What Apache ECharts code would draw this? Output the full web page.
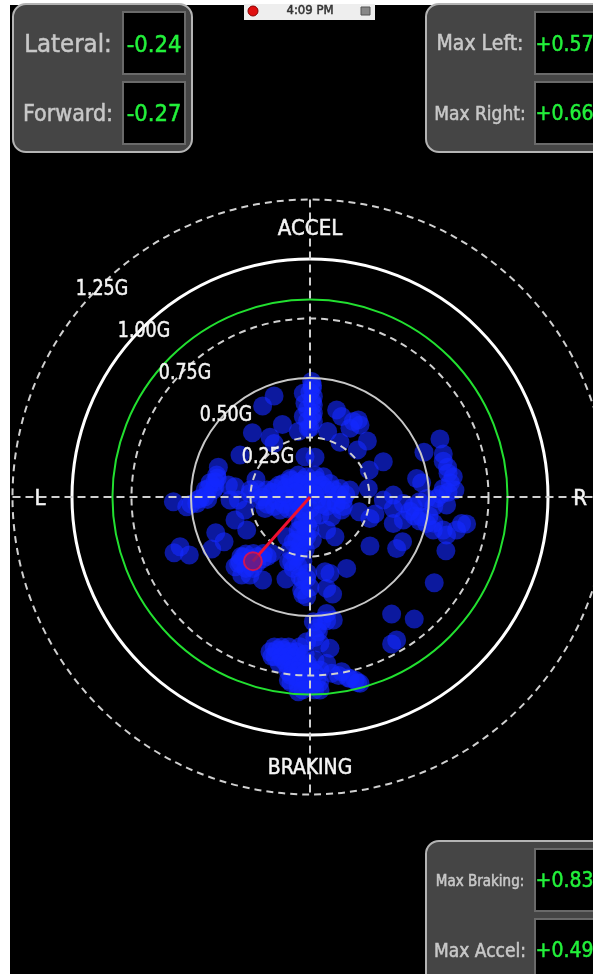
<!DOCTYPE html>
<html><head><meta charset="utf-8">
<style>html,body{margin:0;padding:0;background:#fff;overflow:hidden}#c{width:593px;height:974px;filter:blur(0.6px)}</style>
<script src="https://cdn.jsdelivr.net/npm/echarts@6/dist/echarts.min.js"></script>
</head><body><div id="c"></div>
<script>
// Accelerometer samples, in G
const lateralG = [.007,.010,.014,-.028,.014,-.021,.014,-.028,.014,-.049,-.007,-.151,-.199,-.116,-.242,-.168,-.151,-.294,-.021,.021,-.385,-.392,-.399,-.427,-.441,-.476,-.518,-.574,-.462,-.406,-.343,-.315,-.336,-.301,-.227,-.252,-.210,-.182,-.147,-.112,-.084,-.049,-.014,.021,.056,.084,.126,.168,-.070,-.028,.028,-.140,-.084,-.028,.028,.084,.140,-.189,-.126,-.070,.112,.133,.182,.203,.168,.210,.074,.126,.241,.199,.308,.249,.245,.207,.273,.252,.133,.091,.042,.448,.469,.479,.546,.560,.578,.602,.609,.560,.532,.574,.350,.308,.350,.392,.434,.490,.469,.490,.350,.392,.637,.658,.616,.560,.518,.574,-.315,-.266,-.273,-.396,-.361,-.413,-.546,-.571,-.507,-.294,-.315,-.280,-.238,-.196,-.161,-.252,-.199,-.287,-.224,-.101,-.077,-.084,-.056,-.042,-.028,0,-.098,.105,.070,.154,.252,.389,.364,.571,.522,.343,.438,.364,.343,.063,.084,-.042,-.014,-.035,-.014,.070,.095,.070,.098,.014,.035,.084,.042,-.014,-.140,-.168,-.147,-.112,-.084,-.056,-.042,-.112,-.070,-.028,-.091,-.056,-.049,-.014,.042,.042,.028,.091,.133,.168,.210,.070,.021,-.091,-.028,-.049,-.014,-.070,
-.25,-.22,-.20,-.16,-.13,-.10,-.08,-.05,-.03,0,.03,.05,.07,.10,.12,.15,-.18,-.15,-.11,-.09,-.05,-.03,0,.02,.05,.07,.11,.14,-.06,-.11,
-.04,-.02,0,.01,-.04,-.01,-.05,-.02,.01,-.04,-.07,-.02,-.06,-.03,-.09,-.05,-.01,-.03,0,-.03,
-.15,-.12,-.09,-.16,-.12,-.09,-.06,-.13,-.10,-.07,-.04,-.02,-.01,-.08,-.05,-.02,0,-.08,-.05,-.02,.02,.01,.04,-.03,.02,
.05,.07,.03,.02,.16,.19,.12,.20,
-.29,-.27,-.25,-.22,-.20,-.18,-.30,-.27,-.24,
-.42,-.40,-.44,-.39,-.47,-.50,-.43,
.01,0,.01,-.01,.01,-.01,0,
.50,.52,.46,.44,.42,.46,.52,.55,.58,.59,.58,.56];
const forwardG = [.485,.457,.422,.436,.387,.394,.352,.338,.317,.275,.289,.424,.382,.305,.270,.251,.225,.176,.169,.167,.125,.092,.064,.036,.001,-.027,-.041,-.020,-.006,.029,.050,.043,-.013,-.013,.074,.015,-.013,.029,.036,.057,.078,.092,.085,.092,.085,.057,.036,.029,.043,.036,.036,-.013,-.013,-.013,-.013,-.013,-.013,-.048,-.055,-.048,.366,.338,.317,.324,.289,.303,.275,.230,.235,.197,.148,.113,.036,-.062,-.071,-.090,-.055,-.083,-.076,.078,.060,.188,.244,.181,.125,.085,.029,.036,-.006,-.034,.008,-.013,-.048,-.027,-.041,-.006,-.083,-.111,-.111,-.097,-.111,-.113,-.139,-.139,-.139,-.160,-.097,-.139,-.055,-.150,-.188,-.219,-.209,-.234,-.244,-.272,-.293,-.251,-.237,-.237,-.237,-.328,-.349,-.328,-.279,-.345,-.272,-.223,-.181,-.139,-.111,-.139,-.167,-.167,-.139,-.300,-.206,-.188,-.216,-.226,-.360,-.492,-.513,-.601,-.618,-.314,-.321,-.335,-.342,-.391,-.419,-.384,-.408,-.489,-.517,-.524,-.566,-.636,-.615,-.608,-.643,-.650,-.671,-.643,-.650,-.650,-.629,-.685,-.699,-.685,-.769,-.755,-.818,-.790,-.811,-.727,-.769,-.741,-.734,-.762,-.783,-.699,-.685,-.734,-.195,-.230,-.167,-.300,
.03,.03,0,.02,.05,.04,.07,.06,.07,.06,.07,.05,.03,.03,.01,.01,-.03,-.04,-.03,-.05,-.02,.01,.02,.01,-.03,-.04,-.03,-.04,.02,.01,
-.05,-.07,-.05,-.09,-.10,-.12,-.14,-.16,-.18,-.20,-.19,-.22,-.25,-.27,-.27,-.29,-.32,-.35,-.38,-.41,
-.63,-.63,-.63,-.67,-.67,-.67,-.67,-.70,-.70,-.72,-.70,-.66,-.70,-.75,-.73,-.74,-.72,-.78,-.79,-.77,-.74,-.79,-.78,-.81,-.81,
-.52,-.52,-.55,-.59,-.76,-.77,-.75,-.78,
-.25,-.24,-.26,-.25,-.26,-.25,-.28,-.30,-.30,
.06,.04,.03,.08,-.01,-.03,-.01,
.47,.44,.40,.37,.34,.32,.29,
-.08,-.11,-.10,-.08,-.06,-.02,-.04,.01,.02,.06,.10,.15];
const currentG = [-0.24, -0.27];
const solidRings = [0.5, 1.0];
const dashedRings = [0.25, 0.75, 1.25];
const maxRing = [0.83];
const ringLabels = ['1.25G','1.00G','0.75G','0.50G','0.25G'];
const panelLeft = [['Lateral:','-0.24'],['Forward:','-0.27']];
const panelRight = [['Max Left:','+0.57'],['Max Right:','+0.66']];
const panelBottom = [['Max Braking:','+0.83'],['Max Accel:','+0.49']];

const chart = echarts.init(document.getElementById('c'), null, {renderer:'canvas'});
const FONT = '"DejaVu Sans Condensed","DejaVu Sans"';
const ringSeries = (vals, color, width, dash) => ({
  type:'custom', coordinateSystem:'cartesian2d', z:5, silent:true, clip:false,
  data: vals.map(v=>[v,0]),
  renderItem:(p,api)=>{
    const c = api.coord([0,0]);
    const r = api.size([api.value(0),0])[0];
    return {type:'circle', shape:{cx:c[0],cy:c[1],r}, style:{fill:null,stroke:color,lineWidth:width,lineDash:dash}};
  }
});
const crossLine = pts => ({type:'line',data:pts,symbol:'none',silent:true,z:6,
  lineStyle:{color:'#cfcfcf',width:2,type:[8,5]}});
const txt = (t,x,y,size,fill,sx) => ({type:'text',z:20,x,y,scaleX:sx||1,style:{text:t,x:0,y:0,font:`${size}px ${FONT}`,fill,stroke:fill,lineWidth:0.5,align:'center',verticalAlign:'middle'}});
const box = (x,y,w,h)=>({type:'rect',z:11,shape:{x,y,width:w,height:h},style:{fill:'#000',stroke:'#6a6a6a',lineWidth:2}});
const panel = (x,y,w,h)=>({type:'rect',z:10,shape:{x,y,width:w,height:h,r:13},style:{fill:'#454545',stroke:'#b4b4b4',lineWidth:2}});
const LABEL='#c8c8c8', GREEN='#22f03a', WHITE='#f4f4f4';

const graphics = [
  {type:'rect',z:-1,shape:{x:10,y:5,width:583,height:969},style:{fill:'#000'}},
  panel(13,4,179,148), box(123,12,62,62), box(123,82,62,62),
  txt(panelLeft[0][0],68,45,25.5,LABEL), txt(panelLeft[0][1],154,46,23.5,GREEN),
  txt(panelLeft[1][0],68,115,23,LABEL), txt(panelLeft[1][1],154,115,23.5,GREEN),
  panel(426,4,190,148), box(535,12,70,62), box(535,82,70,62),
  txt(panelRight[0][0],480,45,21,LABEL), txt(panelRight[0][1],564.5,46,21,GREEN),
  txt(panelRight[1][0],480,115,19,LABEL), txt(panelRight[1][1],564.5,115,21,GREEN),
  panel(426,841,190,150), box(535,849,70,62), box(535,919,70,70),
  txt(panelBottom[0][0],480,882,15,LABEL), txt(panelBottom[0][1],564.5,882,21,GREEN),
  txt(panelBottom[1][0],480,952,19,LABEL), txt(panelBottom[1][1],564.5,952,21,GREEN),
  {type:'rect',z:10,shape:{x:244,y:4,width:131,height:16},style:{fill:'#eeeeee'}},
  {type:'circle',z:11,shape:{cx:253,cy:11,r:5},style:{fill:'#e01010',stroke:'#800',lineWidth:1}},
  {type:'rect',z:11,shape:{x:361,y:7,width:9,height:8},style:{fill:'#888',stroke:'#555',lineWidth:1}},
  txt('4:09 PM',310,11,13,'#333'),
  txt(ringLabels[0],102,289,22,WHITE,.88),
  txt(ringLabels[1],144,331,22,WHITE,.88),
  txt(ringLabels[2],185,373,22,WHITE,.88),
  txt(ringLabels[3],226,415,22,WHITE,.88),
  txt(ringLabels[4],268,457,22,WHITE,.88),
  txt('ACCEL',310,229,22,WHITE),
  txt('BRAKING',310,768,22,WHITE,.95),
  txt('L',40,499,22,WHITE),
  txt('R',580,499,22,WHITE)
];

chart.setOption({
  animation:false,
  backgroundColor:'transparent',
  grid:{left:0,right:0,top:0,bottom:0},
  xAxis:{type:'value',min:-310/238,max:283/238,show:false},
  yAxis:{type:'value',min:-477/238,max:497/238,show:false},
  graphic:graphics,
  series:[
    {type:'scatter',z:3,silent:true,symbol:'circle',symbolSize:19,large:false,
     data:lateralG.map((x,i)=>[x,forwardG[i]]),
     itemStyle:{color:'#1428ff',opacity:0.62}},
    ringSeries(dashedRings,'#d0d0d0',2,[7,5]),
    ringSeries([solidRings[0]],'#c8c8c8',2,null),
    ringSeries([solidRings[1]],'#ffffff',3,null),
    ringSeries(maxRing,'#22e030',2,null),
    crossLine([[-1.25,0],[1.25,0]]),
    crossLine([[0,1.25],[0,-1.25]]),
    {type:'line',z:7,silent:true,symbol:'none',data:[[0,0],currentG],lineStyle:{color:'#f01030',width:3}},
    {type:'scatter',z:8,silent:true,symbolSize:18,data:[currentG],
     itemStyle:{color:'#7a1a70',borderColor:'#f01040',borderWidth:2}}
  ]
});
</script></body></html>
